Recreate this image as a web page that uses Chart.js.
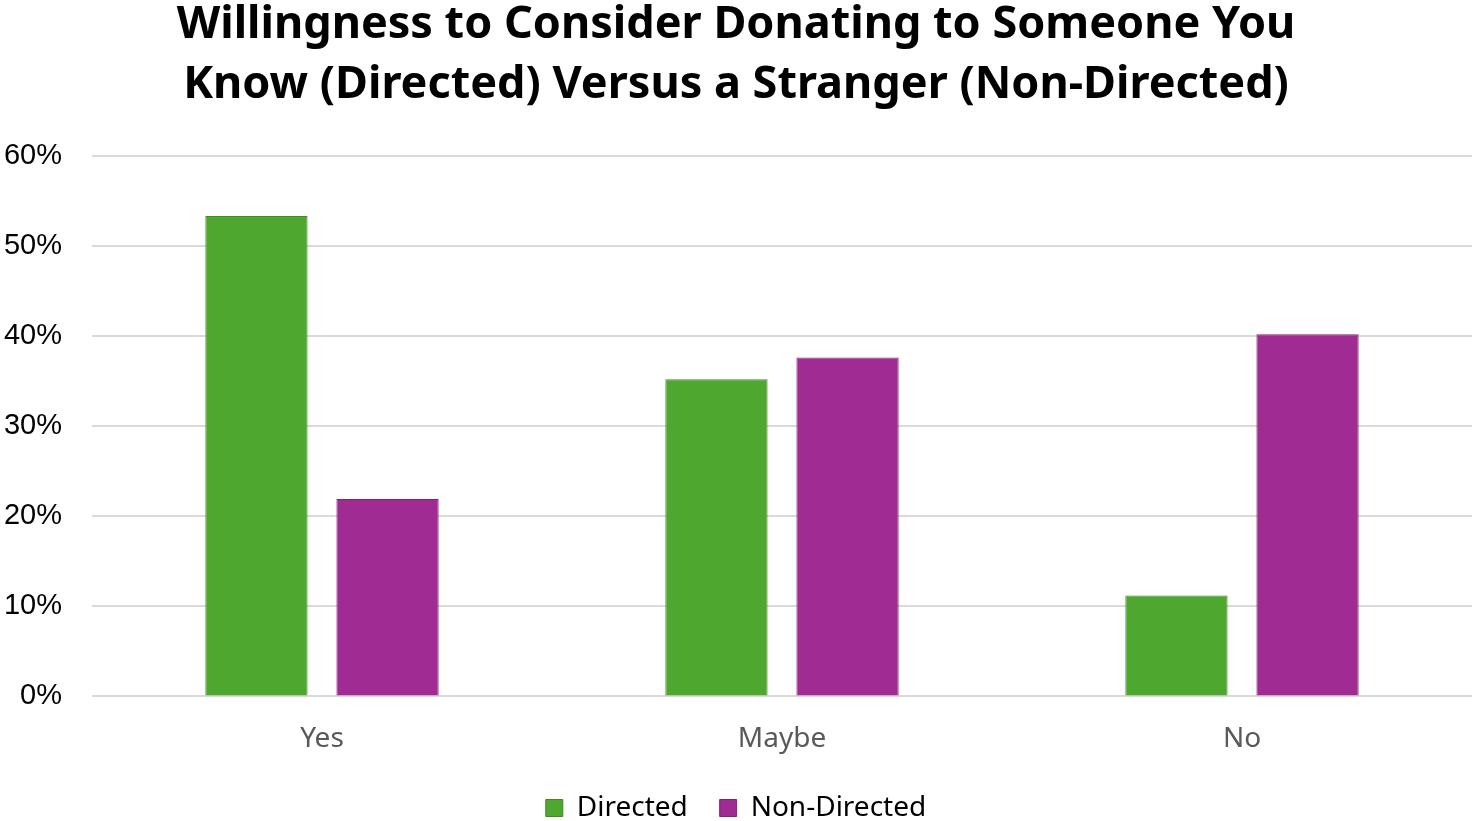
<!DOCTYPE html>
<html>
<head>
<meta charset="utf-8">
<script src="https://cdn.jsdelivr.net/npm/chart.js@4/dist/chart.umd.min.js"></script>
<style>
  html, body { margin: 0; padding: 0; background: #fff; }
  #wrap { width: 1476px; height: 821px; }
</style>
</head>
<body>
<div id="wrap"><canvas id="chart" width="1476" height="821"></canvas></div>
<script>
// Dữ liệu
const categories = ["Yes", "Maybe", "No"];
const directed = [53.3, 35.2, 11.2];
const nonDirected = [21.9, 37.6, 40.2];
const yTicks = [0, 10, 20, 30, 40, 50, 60];

const ctx = document.getElementById("chart").getContext("2d");
new Chart(ctx, {
  type: "bar",
  data: {
    labels: categories,
    datasets: [
      {
        label: "Directed",
        data: directed,
        backgroundColor: "#4EA72E",
        borderColor: "#3F8A25",
        borderWidth: 1,
      },
      {
        label: "Non-Directed",
        data: nonDirected,
        backgroundColor: "#A02B93",
        borderColor: "#84227A",
        borderWidth: 1,
      },
    ],
  },
  options: {
    responsive: false,
    animation: false,
    devicePixelRatio: 1,
    layout: { padding: { left: 0, right: 4, top: 0, bottom: -11 } },
    datasets: { bar: { categoryPercentage: 0.57, barPercentage: 0.78 } },
    plugins: {
      title: {
        display: true,
        text: [
          "Willingness to Consider Donating to Someone You",
          "Know (Directed) Versus a Stranger (Non-Directed)",
        ],
        color: "#000",
        font: { family: "'Noto Sans', 'Open Sans', sans-serif", size: 45, weight: "bold", lineHeight: 1.33 },
        padding: { top: -5, bottom: 41 },
      },
      legend: {
        position: "bottom",
        labels: {
          color: "#000",
          boxWidth: 17,
          boxHeight: 17,
          padding: 10,
          font: { family: "'Noto Sans', 'Open Sans', sans-serif", size: 28 },
          // khoảng cách giữa các mục chú thích
          generateLabels: (chart) =>
            Chart.defaults.plugins.legend.labels
              .generateLabels(chart)
              .map((l, i, a) => (i < a.length - 1 ? { ...l, text: l.text + "   " } : l)),
        },
      },
      tooltip: { enabled: false },
    },
    scales: {
      x: {
        grid: { display: false },
        border: { display: false },
        afterFit: (axis) => {
          axis.height = axis.height + 10;
        },
        ticks: {
          color: "#595959",
          padding: 18,
          font: { family: "'Noto Sans', 'Open Sans', sans-serif", size: 28 },
        },
      },
      y: {
        min: 0,
        max: 60,
        afterBuildTicks: (axis) => {
          axis.ticks = yTicks.map((v) => ({ value: v }));
        },
        afterFit: (axis) => {
          axis.width = 92;
        },
        grid: { color: "#d9d9d9", lineWidth: 2, drawTicks: false },
        border: { display: false },
        ticks: {
          color: "#000",
          padding: 30,
          font: { family: "'Liberation Sans', Arial, sans-serif", size: 29 },
          callback: (v) => v + "%",
        },
      },
    },
  },
});
</script>
</body>
</html>
